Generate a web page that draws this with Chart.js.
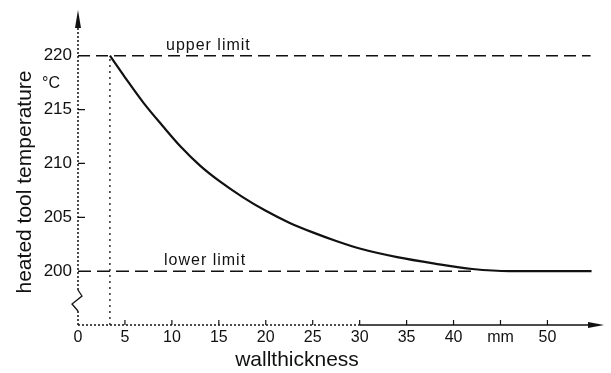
<!DOCTYPE html>
<html>
<head>
<meta charset="utf-8">
<script src="https://cdn.jsdelivr.net/npm/chart.js@4.4.1/dist/chart.umd.min.js"></script>
<style>
  html, body { margin: 0; padding: 0; background: #fff; }
</style>
</head>
<body>
<canvas id="chart" width="611" height="373"></canvas>
<script>
// Curve: wall thickness (mm) vs heated tool temperature (°C)
const wallThickness = [3.4, 5.0, 7.0, 9.0, 11.0, 13.0, 15.0, 17.5, 20.0, 22.5, 25.0, 27.5, 30.0, 34.0, 38.0, 42.0, 46.0, 54.7];
const toolTemperature = [220, 218.0, 215.6, 213.5, 211.5, 209.8, 208.4, 206.9, 205.6, 204.5, 203.6, 202.8, 202.1, 201.3, 200.7, 200.2, 200.0, 200.0];

// Limit lines and the marker at the smallest wall thickness
const upperLimitX = [0, 54.6];
const upperLimitY = [220, 220];
const lowerLimitX = [0, 42];
const lowerLimitY = [200, 200];
const markerX = [3.4, 3.4];
const markerY = [195, 220];

// Tick labels
const xTickValues = [0, 5, 10, 15, 20, 25, 30, 35, 40, 45, 50];
const xTickLabels = ['0', '5', '10', '15', '20', '25', '30', '35', '40', 'mm', '50'];
const yTickValues = [200, 205, 210, 215, 220];
const yTickLabels = ['200', '205', '210', '215', '220'];

const FONT = '"Liberation Sans", Arial, sans-serif';
const INK = '#111';

function pts(xs, ys) {
    return xs.map((x, i) => ({ x: x, y: ys[i] }));
}

// Axes, arrows, axis break, inward tick marks and the loose labels
const sketchPlugin = {
    id: 'sketch',
    afterDraw(chart) {
        const ctx = chart.ctx;
        const xs = chart.scales.x;
        const ys = chart.scales.y;
        const x0 = xs.getPixelForValue(0);
        const yBase = ys.getPixelForValue(195);
        const yTop = 10;
        const xEnd = 604;

        ctx.save();
        ctx.strokeStyle = INK;
        ctx.fillStyle = INK;

        // y axis (dotted) with a break near the bottom
        ctx.lineWidth = 1.5;
        ctx.setLineDash([2, 2]);
        ctx.beginPath();
        ctx.moveTo(x0, yTop + 14);
        ctx.lineTo(x0, 290);
        ctx.moveTo(x0, 311);
        ctx.lineTo(x0, yBase);
        ctx.stroke();
        ctx.setLineDash([]);
        ctx.lineWidth = 1.3;
        ctx.beginPath();
        ctx.moveTo(x0, 290);
        ctx.lineTo(x0 + 4, 296);
        ctx.lineTo(x0 - 6, 304);
        ctx.lineTo(x0, 311);
        ctx.stroke();

        // y arrow head
        ctx.beginPath();
        ctx.moveTo(x0, yTop);
        ctx.lineTo(x0 - 3, yTop + 18);
        ctx.lineTo(x0 + 3, yTop + 18);
        ctx.closePath();
        ctx.fill();

        // x axis: dotted on the left, solid on the right
        ctx.lineWidth = 1.5;
        ctx.setLineDash([2, 2]);
        ctx.beginPath();
        ctx.moveTo(x0, yBase);
        ctx.lineTo(xs.getPixelForValue(30), yBase);
        ctx.stroke();
        ctx.setLineDash([]);
        ctx.beginPath();
        ctx.moveTo(xs.getPixelForValue(30), yBase);
        ctx.lineTo(xEnd - 10, yBase);
        ctx.stroke();
        ctx.beginPath();
        ctx.moveTo(xEnd, yBase);
        ctx.lineTo(xEnd - 16, yBase - 3);
        ctx.lineTo(xEnd - 16, yBase + 3);
        ctx.closePath();
        ctx.fill();

        // inward tick marks
        ctx.lineWidth = 1.2;
        ctx.beginPath();
        xTickValues.slice(1).forEach(v => {
            const px = xs.getPixelForValue(v);
            ctx.moveTo(px, yBase);
            ctx.lineTo(px, yBase - 5);
        });
        [205, 210, 215].forEach(v => {
            const py = ys.getPixelForValue(v);
            ctx.moveTo(x0, py);
            ctx.lineTo(x0 + 7, py);
        });
        ctx.stroke();

        // unit of the y axis
        ctx.font = '16px ' + FONT;
        ctx.textAlign = 'center';
        ctx.textBaseline = 'middle';
        ctx.fillText('°C', 51, 84);

        // limit labels
        ctx.font = '16px ' + FONT;
        ctx.letterSpacing = '1px';
        ctx.textAlign = 'left';
        ctx.textBaseline = 'alphabetic';
        ctx.fillText('upper limit', 166, ys.getPixelForValue(220) - 6);
        ctx.fillText('lower limit', 164, ys.getPixelForValue(200) - 6);
        ctx.letterSpacing = '0px';

        // axis titles
        ctx.font = '21px ' + FONT;
        ctx.textAlign = 'center';
        ctx.textBaseline = 'middle';
        ctx.fillText('wallthickness', 297, 360);
        ctx.translate(25, 182);
        ctx.rotate(-Math.PI / 2);
        ctx.fillText('heated tool temperature', 0, 0);
        ctx.restore();
    }
};

const ctx = document.getElementById('chart').getContext('2d');
new Chart(ctx, {
    type: 'scatter',
    data: {
        datasets: [
            {
                data: pts(wallThickness, toolTemperature),
                showLine: true,
                borderColor: INK,
                borderWidth: 2.2,
                pointRadius: 0,
                cubicInterpolationMode: 'monotone'
            },
            {
                data: pts(upperLimitX, upperLimitY),
                showLine: true,
                borderColor: INK,
                borderWidth: 1.5,
                borderDash: [12, 6],
                pointRadius: 0
            },
            {
                data: pts(lowerLimitX, lowerLimitY),
                showLine: true,
                borderColor: INK,
                borderWidth: 1.5,
                borderDash: [13, 6],
                pointRadius: 0
            },
            {
                data: pts(markerX, markerY),
                showLine: true,
                borderColor: INK,
                borderWidth: 1.3,
                borderDash: [2, 4],
                pointRadius: 0
            }
        ]
    },
    options: {
        responsive: false,
        animation: false,
        devicePixelRatio: 1,
        layout: { padding: { left: 0, right: 11, top: 12, bottom: 0 } },
        plugins: {
            legend: { display: false },
            tooltip: { enabled: false }
        },
        scales: {
            x: {
                type: 'linear',
                min: 0,
                max: 55.6,
                afterFit: s => { s.height = 48; },
                afterBuildTicks: s => { s.ticks = xTickValues.map(v => ({ value: v })); },
                grid: { display: false, drawTicks: false },
                border: { display: false },
                ticks: {
                    autoSkip: false,
                    maxRotation: 0,
                    padding: 3,
                    color: INK,
                    font: { family: FONT, size: 16 },
                    callback: v => xTickLabels[xTickValues.indexOf(v)]
                }
            },
            y: {
                type: 'linear',
                min: 195,
                max: 223.67,
                afterFit: s => { s.width = 78; },
                afterBuildTicks: s => { s.ticks = yTickValues.map(v => ({ value: v })); },
                grid: { display: false, drawTicks: false },
                border: { display: false },
                ticks: {
                    autoSkip: false,
                    padding: 6,
                    color: INK,
                    font: { family: FONT, size: 17 },
                    callback: v => yTickLabels[yTickValues.indexOf(v)]
                }
            }
        }
    },
    plugins: [sketchPlugin]
});
</script>
</body>
</html>
